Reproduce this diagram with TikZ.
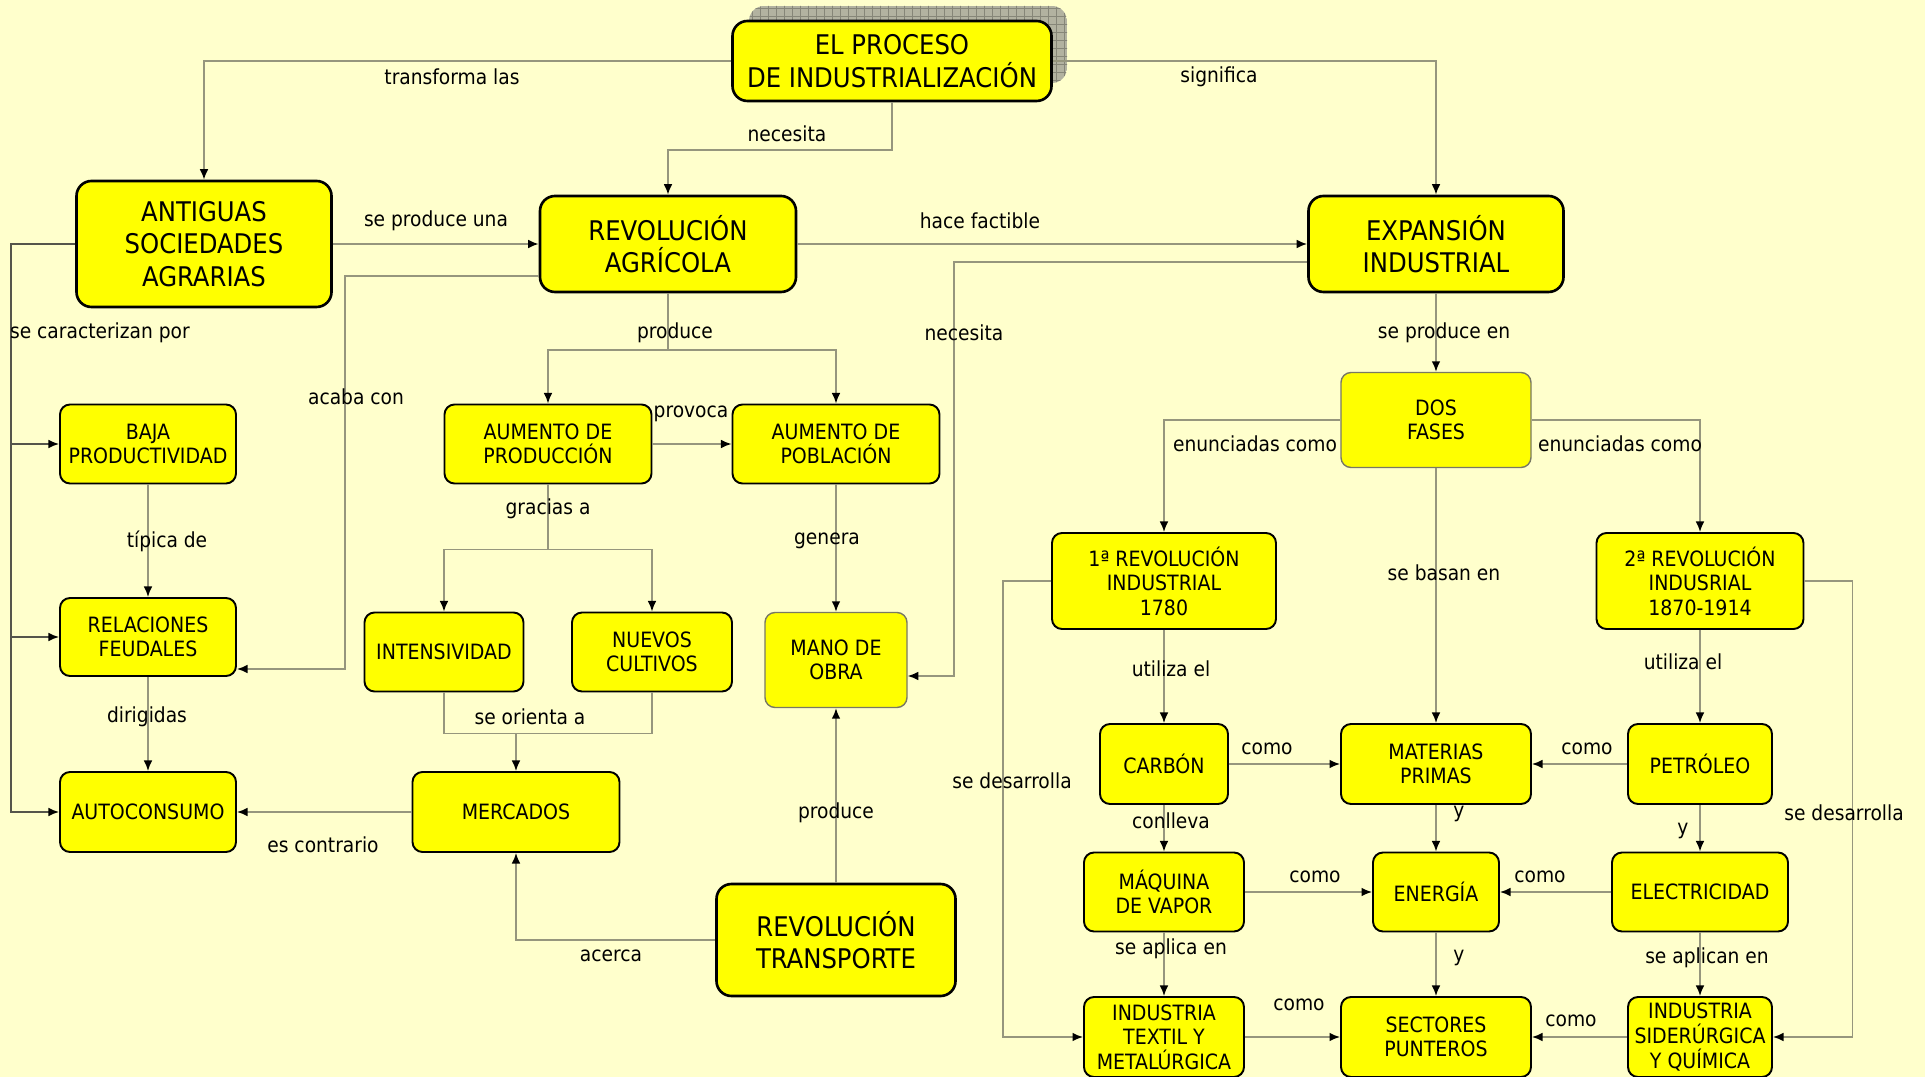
\documentclass[tikz,border=0pt]{standalone}
\usepackage{fontspec}
\setmainfont{DejaVu Sans Condensed}
\usetikzlibrary{arrows.meta,calc,positioning}
\definecolor{fondo}{RGB}{255,255,204}
\definecolor{caja}{RGB}{255,255,0}
\definecolor{linea}{RGB}{150,150,125}
\definecolor{lineaosc}{RGB}{85,85,75}
\definecolor{sombra}{RGB}{178,178,160}
\tikzset{
  concepto/.style={draw=black, line width=1.1pt, fill=caja, rounded corners=0.2cm,
    align=center, inner sep=2pt, font=\fontsize{12}{14}\selectfont},
  grande/.style={concepto, line width=1.5pt, rounded corners=0.3cm,
    font=\fontsize{15.4}{18.5}\selectfont},
  tenue/.style={draw=linea!80!black, line width=0.8pt},
  sz/.style 2 args={minimum width=#1*0.02cm, minimum height=#2*0.02cm},
  enlace/.style={draw=linea, line width=1pt, -{Latex[length=6pt,width=5pt,color=black]}},
  lbl/.style={inner sep=1pt, font=\fontsize{11.8}{14}\selectfont},
}

\begin{document}
\begin{tikzpicture}[x=0.02cm,y=-0.02cm]
    % Background.
    \useasboundingbox (0,0) rectangle (1925,1077);
    \fill[fondo] (0,0) rectangle (1925,1077);

    % Shadow of the title.
    \begin{scope}
        \clip[rounded corners=0.3cm] (749,6) rectangle (1067,83);
        \fill[sombra] (749,6) rectangle (1067,83);
        \draw[sombra!75!black, step=0.16cm, line width=0.3pt] (740,0) grid (1070,90);
    \end{scope}

    % Concepts.
    \node[grande, sz={319}{80}] (proceso) at (892,61) {EL PROCESO\\DE INDUSTRIALIZACIÓN};
    \node[grande, sz={255}{126}] (antiguas) at (204,244) {ANTIGUAS\\SOCIEDADES\\AGRARIAS};
    \node[grande, sz={256}{96}] (revagr) at (668,244) {REVOLUCIÓN\\AGRÍCOLA};
    \node[grande, sz={255}{96}] (expansion) at (1436,244) {EXPANSIÓN\\INDUSTRIAL};
    \node[concepto, sz={176}{79}] (baja) at (148,444) {BAJA\\PRODUCTIVIDAD};
    \node[concepto, sz={207}{79}] (aumprod) at (548,444) {AUMENTO DE\\PRODUCCIÓN};
    \node[concepto, sz={207}{79}] (aumpob) at (836,444) {AUMENTO DE\\POBLACIÓN};
    \node[concepto, tenue, sz={190}{95}] (dosfases) at (1436,420) {DOS\\FASES};
    \node[concepto, sz={176}{78}] (relfeud) at (148,637) {RELACIONES\\FEUDALES};
    \node[concepto, sz={159}{79}] (intens) at (444,652) {INTENSIVIDAD};
    \node[concepto, sz={160}{79}] (nuevos) at (652,652) {NUEVOS\\CULTIVOS};
    \node[concepto, tenue, sz={142}{95}] (mano) at (836,660) {MANO DE\\OBRA};
    \node[concepto, sz={224}{96}] (revone) at (1164,581) {1ª REVOLUCIÓN\\INDUSTRIAL\\1780};
    \node[concepto, sz={207}{96}] (revtwo) at (1700,581) {2ª REVOLUCIÓN\\INDUSRIAL\\1870-1914};
    \node[concepto, sz={176}{80}] (autocons) at (148,812) {AUTOCONSUMO};
    \node[concepto, sz={207}{80}] (mercados) at (516,812) {MERCADOS};
    \node[concepto, sz={128}{80}] (carbon) at (1164,764) {CARBÓN};
    \node[concepto, sz={190}{80}] (materias) at (1436,764) {MATERIAS\\PRIMAS};
    \node[concepto, sz={144}{80}] (petroleo) at (1700,764) {PETRÓLEO};
    \node[concepto, sz={160}{79}] (maquina) at (1164,892) {MÁQUINA\\DE VAPOR};
    \node[concepto, sz={126}{79}] (energia) at (1436,892) {ENERGÍA};
    \node[concepto, sz={176}{79}] (electr) at (1700,892) {ELECTRICIDAD};
    \node[grande, sz={239}{112}] (revtrans) at (836,940) {REVOLUCIÓN\\TRANSPORTE};
    \node[concepto, sz={160}{80}] (indtextil) at (1164,1037) {INDUSTRIA\\TEXTIL Y\\METALÚRGICA};
    \node[concepto, sz={190}{80}] (sectores) at (1436,1037) {SECTORES\\PUNTEROS};
    \node[concepto, sz={144}{80}] (indsider) at (1700,1037) {INDUSTRIA\\SIDERÚRGICA\\Y QUÍMICA};

    % Links from the title.
    \draw[enlace] (proceso.west) -| (antiguas.north);
    \draw[enlace] (proceso.east) -| (expansion.north);
    \draw[enlace] (proceso.south) -- ++(0,48) -| (revagr.north);
    \draw[enlace] (antiguas.east) -- (revagr.west);
    \draw[enlace] (revagr.east) -- (expansion.west);

    % Left column.
    \draw[enlace, draw=lineaosc] (antiguas.west) -- ++(-64,0) |- (baja.west);
    \draw[enlace, draw=lineaosc] (antiguas.west) -- ++(-64,0) |- (relfeud.west);
    \draw[enlace, draw=lineaosc] (antiguas.west) -- ++(-64,0) |- (autocons.west);
    \draw[enlace] (baja.south) -- (relfeud.north);
    \draw[enlace] (relfeud.south) -- (autocons.north);
    \draw[enlace] ($(revagr.west)+(0,32)$) -| ++(-194,393) -- ($(relfeud.east)+(0,32)$);

    % Agricultural revolution.
    \draw[enlace] (revagr.south) -- ++(0,57) -| (aumprod.north);
    \draw[enlace] (revagr.south) -- ++(0,57) -| (aumpob.north);
    \draw[enlace] (aumprod.east) -- (aumpob.west);
    \draw[enlace] (aumprod.south) -- ++(0,65) -| (intens.north);
    \draw[enlace] (aumprod.south) -- ++(0,65) -| (nuevos.north);
    \draw[enlace] (aumpob.south) -- (mano.north);
    \draw[enlace] ($(expansion.west)+(0,18)$) -| ++(-353,414) -- ($(mano.east)+(0,16)$);

    % Markets.
    \coordinate (orienta) at ($(intens.south)+(0,41)$);
    \draw[draw=linea, line width=1pt] (intens.south) -- (orienta) -| (nuevos.south);
    \draw[enlace] (orienta -| mercados.north) -- (mercados.north);
    \draw[enlace] (mercados.west) -- (autocons.east);
    \draw[enlace] (revtrans.west) -| (mercados.south);
    \draw[enlace] (revtrans.north) -- (mano.south);

    % Industrial expansion.
    \draw[enlace] (expansion.south) -- (dosfases.north);
    \draw[enlace] (dosfases.west) -| (revone.north);
    \draw[enlace] (dosfases.east) -| (revtwo.north);
    \draw[enlace] (dosfases.south) -- (materias.north);
    \draw[enlace] (revone.south) -- (carbon.north);
    \draw[enlace] (revtwo.south) -- (petroleo.north);
    \draw[enlace] (revone.west) -- ++(-48,0) |- (indtextil.west);
    \draw[enlace] (revtwo.east) -- ++(48,0) |- (indsider.east);
    \draw[enlace] (carbon.east) -- (materias.west);
    \draw[enlace] (petroleo.west) -- (materias.east);
    \draw[enlace] (carbon.south) -- (maquina.north);
    \draw[enlace] (materias.south) -- (energia.north);
    \draw[enlace] (petroleo.south) -- (electr.north);
    \draw[enlace] (maquina.east) -- (energia.west);
    \draw[enlace] (electr.west) -- (energia.east);
    \draw[enlace] (maquina.south) -- (indtextil.north);
    \draw[enlace] (energia.south) -- (sectores.north);
    \draw[enlace] (electr.south) -- (indsider.north);
    \draw[enlace] (indtextil.east) -- (sectores.west);
    \draw[enlace] (indsider.west) -- (sectores.east);

    % Link words.
    \node[lbl] (lbTransforma) at (452,77) {transforma las};
    \node[lbl] (lbSignifica) at (1219,77) {significa};
    \node[lbl] (lbNecesitaA) at (787,134) {necesita};
    \node[lbl] (lbProduceUna) at (436,221) {se produce una};
    \node[lbl] (lbFactible) at (980,221) {hace factible};
    \node[lbl, anchor=west] (lbCaracter) at (8,333) {se caracterizan por};
    \node[lbl] (lbAcaba) at (356,397) {acaba con};
    \node[lbl] (lbProduceA) at (675,333) {produce};
    \node[lbl] (lbProvoca) at (691,414) {provoca};
    \node[lbl] (lbGracias) at (548,509) {gracias a};
    \node[lbl] (lbGenera) at (827,541) {genera};
    \node[lbl] (lbNecesitaB) at (964,333) {necesita};
    \node[lbl] (lbTipica) at (167,541) {típica de};
    \node[lbl] (lbDirigidas) at (147,717) {dirigidas};
    \node[lbl] (lbOrienta) at (530,717) {se orienta a};
    \node[lbl] (lbContrario) at (323,845) {es contrario};
    \node[lbl] (lbAcerca) at (611,956) {acerca};
    \node[lbl] (lbProduceB) at (836,813) {produce};
    \node[lbl] (lbProduceEn) at (1444,333) {se produce en};
    \node[lbl] (lbEnuncA) at (1255,444) {enunciadas como};
    \node[lbl] (lbEnuncB) at (1620,444) {enunciadas como};
    \node[lbl] (lbBasan) at (1444,573) {se basan en};
    \node[lbl] (lbUtilizaA) at (1171,669) {utiliza el};
    \node[lbl] (lbUtilizaB) at (1683,662) {utiliza el};
    \node[lbl] (lbDesarrA) at (1012,781) {se desarrolla};
    \node[lbl] (lbDesarrB) at (1844,813) {se desarrolla};
    \node[lbl] (lbComoA) at (1267,749) {como};
    \node[lbl] (lbComoB) at (1587,749) {como};
    \node[lbl] (lbConlleva) at (1171,821) {conlleva};
    \node[lbl] (lbYA) at (1459,814) {y};
    \node[lbl] (lbYB) at (1683,831) {y};
    \node[lbl] (lbComoC) at (1315,877) {como};
    \node[lbl] (lbComoD) at (1540,877) {como};
    \node[lbl] (lbAplica) at (1171,949) {se aplica en};
    \node[lbl] (lbYC) at (1459,958) {y};
    \node[lbl] (lbAplican) at (1707,958) {se aplican en};
    \node[lbl] (lbComoE) at (1299,1005) {como};
    \node[lbl] (lbComoF) at (1571,1021) {como};

\end{tikzpicture}
\end{document}
